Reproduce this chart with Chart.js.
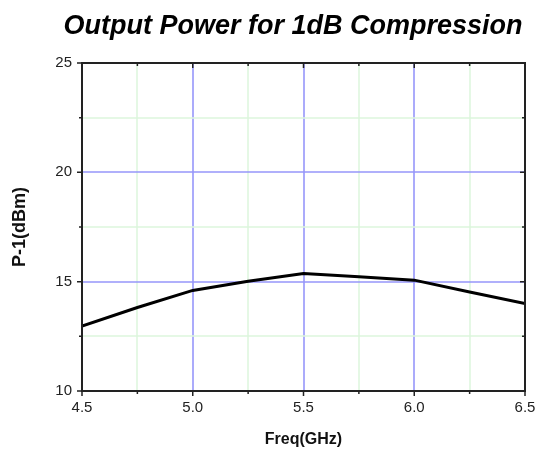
<!DOCTYPE html>
<html>
<head>
<meta charset="utf-8">
<script src="https://cdn.jsdelivr.net/npm/chart.js@4.4.1/dist/chart.umd.min.js"></script>
<style>
  html, body { margin: 0; padding: 0; background: #fff; }
  #wrap { width: 548px; height: 454px; }
</style>
</head>
<body>
<div id="wrap"><canvas id="p1dB"></canvas></div>
<script>
// values
const freqGHz = [4.5, 4.75, 5.0, 5.25, 5.5, 5.75, 6.0, 6.25, 6.5];
const p1dBm = [12.97, 13.82, 14.6, 15.02, 15.37, 15.22, 15.07, 14.53, 14.0];
const xTicks = [4.5, 5.0, 5.5, 6.0, 6.5];
const yTicks = [10, 15, 20, 25];
const xMinorTicks = [4.75, 5.25, 5.75, 6.25];
const yMinorTicks = [12.5, 17.5, 22.5];

const chartTitle = "Output Power for 1dB Compression";
const xTitle = "Freq(GHz)";
const yTitle = "P-1(dBm)";

const FONT = "Arial, 'Liberation Sans', sans-serif";
const MAJOR = "rgb(150,150,250)";
const MINOR = "rgb(220,246,220)";

const isMajor = (v, list) => list.some(t => Math.abs(t - v) < 1e-6);
const allTicks = (major, minor) => major.concat(minor).sort((a, b) => a - b);

// grid behind the data line, drawn from the chart's own scales
const gridLines = {
  id: "gridLines",
  beforeDatasetsDraw(chart) {
    const { ctx, chartArea: a, scales } = chart;
    ctx.save();
    const line = (x1, y1, x2, y2, c, w) => {
      ctx.strokeStyle = c;
      ctx.lineWidth = w;
      ctx.beginPath(); ctx.moveTo(x1, y1); ctx.lineTo(x2, y2); ctx.stroke();
    };
    [[xMinorTicks, MINOR, 1.5], [xTicks, MAJOR, 1.6]].forEach(([vals, c, w]) => vals.forEach(v => {
      const px = Math.round(scales.x.getPixelForValue(v));
      line(px, a.top, px, a.bottom, c, w);
    }));
    [[yMinorTicks, MINOR, 1.5], [yTicks, MAJOR, 1.6]].forEach(([vals, c, w]) => vals.forEach(v => {
      const py = Math.round(scales.y.getPixelForValue(v));
      line(a.left, py, a.right, py, c, w);
    }));
    ctx.restore();
  }
};

// title + tick marks (outer on left/bottom, inner on top/right) + frame
const decor = {
  id: "decor",
  afterDraw(chart) {
    const { ctx, chartArea: a, scales } = chart;
    ctx.save();
    ctx.strokeStyle = "#222";
    ctx.lineWidth = 1.5;
    ctx.beginPath();
    allTicks(xTicks, xMinorTicks).forEach(v => {
      const px = scales.x.getPixelForValue(v);
      const len = isMajor(v, xTicks) ? 5 : 3;
      ctx.moveTo(px, a.bottom); ctx.lineTo(px, a.bottom + len);
      ctx.moveTo(px, a.top); ctx.lineTo(px, a.top + len);
    });
    allTicks(yTicks, yMinorTicks).forEach(v => {
      const py = scales.y.getPixelForValue(v);
      const len = isMajor(v, yTicks) ? 5 : 3;
      ctx.moveTo(a.left, py); ctx.lineTo(a.left - len, py);
      ctx.moveTo(a.right, py); ctx.lineTo(a.right - len, py);
    });
    ctx.stroke();
    ctx.lineWidth = 2;
    ctx.strokeRect(a.left, a.top, a.right - a.left, a.bottom - a.top);

    ctx.fillStyle = "#000";
    ctx.font = "italic bold 27px " + FONT;
    ctx.textAlign = "center";
    ctx.textBaseline = "alphabetic";
    ctx.fillText(chartTitle, 293, 34);
    ctx.restore();
  }
};

new Chart(document.getElementById("p1dB"), {
  type: "line",
  data: {
    datasets: [{
      data: freqGHz.map((f, i) => ({ x: f, y: p1dBm[i] })),
      borderColor: "#000",
      borderWidth: 3,
      pointRadius: 0,
      tension: 0,
      fill: false
    }]
  },
  options: {
    responsive: true,
    maintainAspectRatio: false,
    animation: false,
    layout: { padding: { top: 63, right: 23, left: 0, bottom: 0 } },
    plugins: { legend: { display: false }, tooltip: { enabled: false }, title: { display: false } },
    scales: {
      x: {
        type: "linear",
        min: 4.5, max: 6.5,
        afterFit: s => { s.height = 63; },
        afterBuildTicks: s => {
          s.ticks = xTicks.map(v => ({ value: v }));
        },
        ticks: {
          autoSkip: false, maxRotation: 0, padding: 8,
          color: "#222",
          font: { family: FONT, size: 15 },
          callback: v => v.toFixed(1)
        },
        grid: { display: false, drawTicks: false },
        border: { display: false },
        title: {
          display: true, text: xTitle, color: "#111",
          font: { family: FONT, size: 16, weight: "bold" },
          padding: { top: 4, bottom: 5 }
        }
      },
      y: {
        min: 10, max: 25,
        afterFit: s => { s.width = 82; },
        afterBuildTicks: s => {
          s.ticks = yTicks.map(v => ({ value: v }));
        },
        ticks: {
          autoSkip: false, padding: 10,
          color: "#222",
          font: { family: FONT, size: 15 },
          callback: v => String(v)
        },
        grid: { display: false, drawTicks: false },
        border: { display: false },
        title: {
          display: true, text: yTitle, color: "#111",
          font: { family: FONT, size: 18, weight: "bold" },
          padding: { top: 9, bottom: 4 }
        }
      }
    }
  },
  plugins: [gridLines, decor]
});
</script>
</body>
</html>
